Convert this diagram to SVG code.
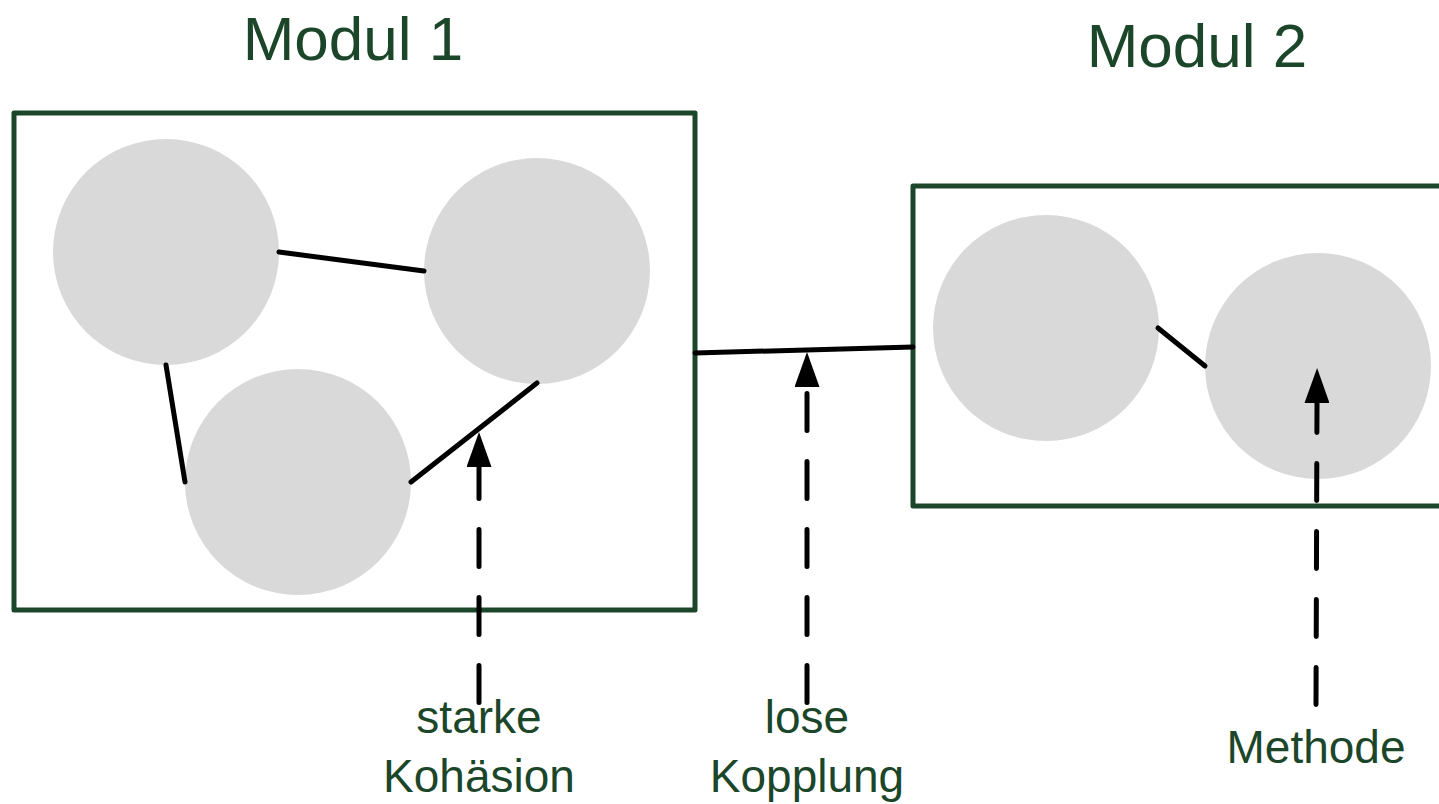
<svg xmlns="http://www.w3.org/2000/svg" width="1439" height="804" viewBox="0 0 1439 804">
  <style>
    .frame { fill: none; stroke: #1b4629; stroke-width: 5; stroke-linejoin: round; }
    .method { fill: #d9d9d9; }
    .link { fill: none; stroke: #000; stroke-width: 5; stroke-linecap: round; }
    .pointer { fill: none; stroke: #000; stroke-width: 5; stroke-linecap: round; stroke-dasharray: 37 31; marker-end: url(#head); }
    .title { font-family: "Liberation Sans", Arial, sans-serif; font-size: 62px; fill: #1b4629; text-anchor: middle; }
    .label { font-family: "Liberation Sans", Arial, sans-serif; font-size: 46px; fill: #1b4629; text-anchor: middle; }
  </style>
  <defs>
    <marker id="head" markerUnits="userSpaceOnUse" viewBox="0 0 35 25" refX="0" refY="12.5" markerWidth="35" markerHeight="25" orient="auto">
      <path d="M0,0 L35,12.5 L0,25 Z" fill="#000"/>
    </marker>
  </defs>

  <rect width="1439" height="804" fill="#fff"/>

  <!-- module 1 -->
  <g id="modul1">
    <text class="title" x="353" y="60">Modul 1</text>
    <rect class="frame" x="14" y="113" width="681" height="497"/>
  </g>
  <!-- module 2 (frame runs past the right edge) -->
  <g id="modul2">
    <text class="title" x="1197" y="67">Modul 2</text>
    <rect class="frame" x="913" y="186" width="560" height="320"/>
  </g>

  <!-- methods -->
  <g id="m1a"><circle class="method" cx="166" cy="252" r="113"/></g>
  <g id="m1b"><circle class="method" cx="537" cy="271" r="113"/></g>
  <g id="m1c"><circle class="method" cx="298" cy="482" r="113"/></g>
  <g id="m2a"><circle class="method" cx="1046" cy="328" r="113"/></g>
  <g id="m2b"><circle class="method" cx="1318" cy="366" r="113"/></g>

  <!-- connectors -->
  <g id="connectors">
    <line class="link" x1="279" y1="252" x2="424" y2="271"/>
    <line class="link" x1="166" y1="365" x2="185" y2="482"/>
    <line class="link" x1="411" y1="482" x2="537" y2="383"/>
    <line class="link" x1="695" y1="353" x2="913" y2="347"/>
    <line class="link" x1="1158" y1="328" x2="1205" y2="366"/>

    <path class="pointer" d="M479,702.5 L479,467"/>
    <path class="pointer" d="M807,702.5 L807,387"/>
    <path class="pointer" d="M1316,704.5 L1317,403"/>
  </g>

  <!-- annotations -->
  <g id="label-kohaesion">
    <text class="label" x="479" y="733">starke</text>
    <text class="label" x="479" y="792">Kohäsion</text>
  </g>
  <g id="label-kopplung">
    <text class="label" x="807" y="733">lose</text>
    <text class="label" x="807" y="792">Kopplung</text>
  </g>
  <g id="label-methode">
    <text class="label" x="1316" y="763">Methode</text>
  </g>
</svg>
